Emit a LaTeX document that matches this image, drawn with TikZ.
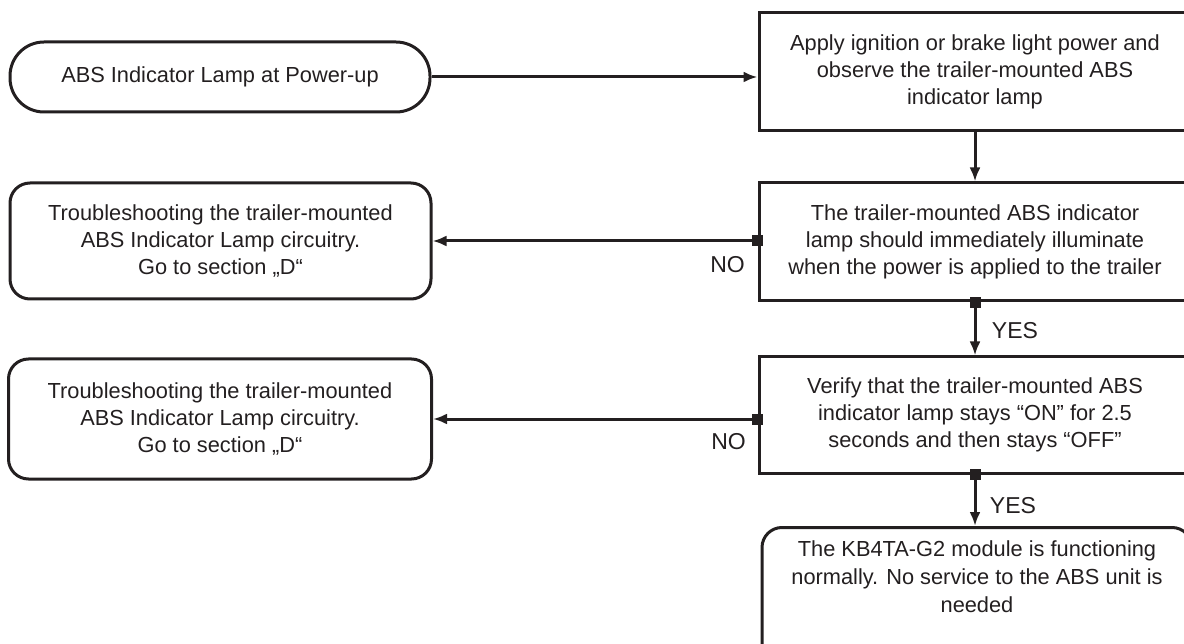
\documentclass[tikz,border=0pt]{standalone}
\usepackage{fontspec}
\setmainfont{Liberation Sans}
\usetikzlibrary{arrows.meta,calc}
\definecolor{ink}{HTML}{231F20}
\tikzset{
  base/.style={draw=ink, line width=3pt, text=ink, align=center, inner sep=0pt,
    font=\fontsize{21.8}{27}\selectfont},
  stepbox/.style={base, rectangle, minimum width=432pt},
  roundbox/.style={base, rectangle, rounded corners=20pt},
  startbox/.style={base, rectangle, rounded corners=34pt, minimum width=420pt, minimum height=70pt},
  plain/.style={text=ink, align=center, inner sep=0pt, font=\fontsize{21.8}{28}\selectfont},
  marker/.style={fill=ink, rectangle, minimum size=11pt, inner sep=0pt},
  flow/.style={draw=ink, line width=3pt, -{Latex[length=14pt,width=11pt]}},
  answer/.style={text=ink, inner sep=0pt, font=\fontsize{23}{26}\selectfont}
}
\begin{document}
\begin{tikzpicture}[x=1pt,y=-1pt]
\useasboundingbox (0,0) rectangle (1184,644);

% start terminal
\node[startbox] (start) at (220,77) {ABS Indicator Lamp at Power-up};

% process steps on the right
\node[stepbox, minimum height=118pt] (apply) at (975,72)
  {Apply ignition or brake light power and\\observe the trailer-mounted ABS\\indicator lamp};
\node[stepbox, minimum height=118pt] (check) at (975,242)
  {The trailer-mounted ABS indicator\\lamp should immediately illuminate\\when the power is applied to the trailer};
\node[stepbox, minimum height=116pt] (verify) at (975,415)
  {Verify that the trailer-mounted ABS\\indicator lamp stays “ON” for 2.5\\seconds and then stays “OFF”};

% outcomes
\node[roundbox, minimum width=421pt, minimum height=116pt] (fixA) at (220.5,241)
  {Troubleshooting the trailer-mounted\\ABS Indicator Lamp circuitry.\\Go to section „D“};
\node[roundbox, minimum width=423pt, minimum height=120pt] (fixB) at (220,419)
  {Troubleshooting the trailer-mounted\\ABS Indicator Lamp circuitry.\\Go to section „D“};
\node[roundbox, minimum width=430pt, minimum height=135pt, anchor=north] (done) at (977,526) {};
\node[plain, anchor=north] (doneText) at ($(done.north)+(0,15)$)
  {The KB4TA-G2 module is functioning\\normally. No service to the ABS unit is\\needed};

% decision points
\node[marker] (mA) at (check.west |- fixA.east) {};
\node[marker] (mB) at (check.south) {};
\node[marker] (mC) at (verify.west |- fixB.east) {};
\node[marker] (mD) at (verify.south) {};

% connectors
\draw[flow] (start.east) -- (apply.west |- start.east);
\draw[flow] (apply.south) -- (check.north);
\draw[flow] (mA.center) -- (fixA.east);
\draw[flow] (mB.center) -- (verify.north);
\draw[flow] (mC.center) -- (fixB.east);
\draw[flow] (mD.center) -- (mD |- done.north);

% answer labels
\node[answer] (noA) at ($(mA)+(-30,24)$) {NO};
\node[answer] (yesA) at ($(mB)+(40,28)$) {YES};
\node[answer] (noB) at ($(mC)+(-29,23)$) {NO};
\node[answer] (yesB) at ($(mD)+(38,31)$) {YES};
\end{tikzpicture}
\end{document}
